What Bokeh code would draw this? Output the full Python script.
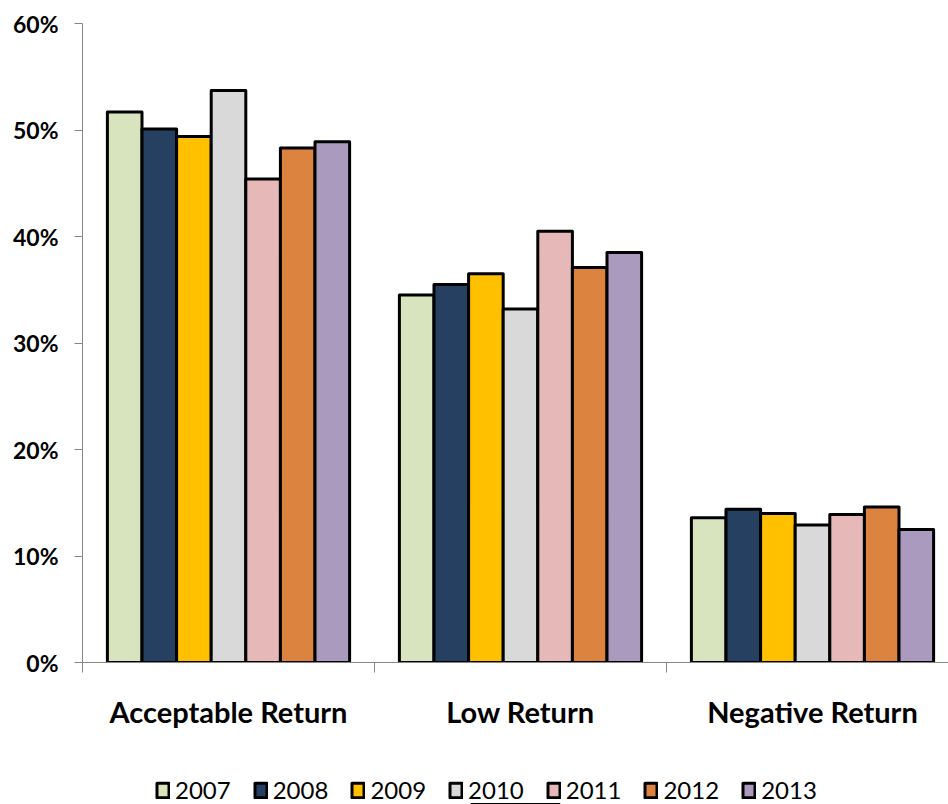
from bokeh.plotting import figure
from bokeh.layouts import column
from bokeh.models import (Range1d, FixedTicker, PrintfTickFormatter, Legend,
                          LegendItem, ColumnDataSource)
from bokeh.embed import file_html
from bokeh.resources import INLINE

categories = ["Acceptable Return", "Low Return", "Negative Return"]
years = ["2007", "2008", "2009", "2010", "2011", "2012", "2013"]
v2007 = [51.7, 34.5, 13.6]
v2008 = [50.1, 35.5, 14.4]
v2009 = [49.4, 36.5, 14.0]
v2010 = [53.7, 33.2, 12.9]
v2011 = [45.4, 40.5, 13.9]
v2012 = [48.3, 37.1, 14.6]
v2013 = [48.9, 38.5, 12.5]
series = [v2007, v2008, v2009, v2010, v2011, v2012, v2013]
colors = ["#D7E4BD", "#254061", "#FFC000", "#D9D9D9", "#E6B9B8", "#DD8340", "#AA9ABE"]
y_ticks = [0, 10, 20, 30, 40, 50, 60]

FONT = "Lato"

p = figure(frame_width=866, frame_height=639, output_backend="svg", toolbar_location=None,
           x_range=Range1d(0, 866 / 292), y_range=Range1d(0, 60),
           min_border_left=82, min_border_right=0, min_border_top=23,
           min_border_bottom=100)
p.outline_line_color = None
p.xgrid.grid_line_color = None
p.ygrid.grid_line_color = None

bw = 0.1185
for i, (yr, vals, c) in enumerate(zip(years, series, colors)):
    xs = [k + 0.5 + (i - 3) * bw for k in range(len(categories))]
    src = ColumnDataSource(dict(x=xs, top=vals))
    p.vbar(x="x", top="top", width=bw, bottom=0, source=src,
           fill_color=c, line_color="black", line_width=3, line_join="round")

# Y axis
ya = p.yaxis[0]
ya.ticker = FixedTicker(ticks=y_ticks, minor_ticks=[])
ya.formatter = PrintfTickFormatter(format="%d%%")
ya.axis_line_color = "#868686"
ya.major_tick_line_color = "#868686"
ya.major_tick_out = 8
ya.major_tick_in = 0
ya.major_label_standoff = 16
ya.major_label_text_font = FONT
ya.major_label_text_font_style = "bold"
ya.major_label_text_font_size = "23px"
ya.major_label_text_color = "black"

# X axis
xa = p.xaxis[0]
xa.ticker = FixedTicker(ticks=[0.5, 1.5, 2.5], minor_ticks=[0, 1, 2, 3])
xa.major_label_overrides = {0.5: categories[0], 1.5: categories[1], 2.5: categories[2]}
xa.axis_line_color = "#868686"
xa.major_tick_line_color = None
xa.major_tick_out = 0
xa.major_tick_in = 0
xa.minor_tick_line_color = "#868686"
xa.minor_tick_out = 10
xa.minor_tick_in = 0
xa.major_label_standoff = 21
xa.major_label_text_font = FONT
xa.major_label_text_font_style = "bold"
xa.major_label_text_font_size = "29px"
xa.major_label_text_color = "black"

# Legend strip (swatch renderers sit far outside the visible range)
lg = figure(width=948, height=42, output_backend="svg", toolbar_location=None,
            x_range=Range1d(0, 1), y_range=Range1d(0, 1),
            min_border_left=0, min_border_right=0, min_border_top=0,
            min_border_bottom=0, x_axis_location=None, y_axis_location=None)
lg.outline_line_color = None
lg.xgrid.grid_line_color = None
lg.ygrid.grid_line_color = None
items = []
for yr, c in zip(years, colors):
    r = lg.vbar(x=[0.5], top=[-5], bottom=[-6], width=0.1, fill_color=c,
                line_color="black", line_width=3, line_join="round")
    items.append(LegendItem(label=yr, renderers=[r], index=0))

legend = Legend(items=items, orientation="horizontal", location=(73, 0),
                border_line_color=None, background_fill_alpha=0,
                margin=0, padding=0, spacing=22,
                glyph_width=15, glyph_height=18, label_standoff=5,
                label_height=18,
                label_text_font=FONT, label_text_font_size="24px",
                label_text_color="black")
lg.add_layout(legend, "center")

layout = column(p, lg, spacing=0)
open("out.html", "w").write(file_html(layout, INLINE))
